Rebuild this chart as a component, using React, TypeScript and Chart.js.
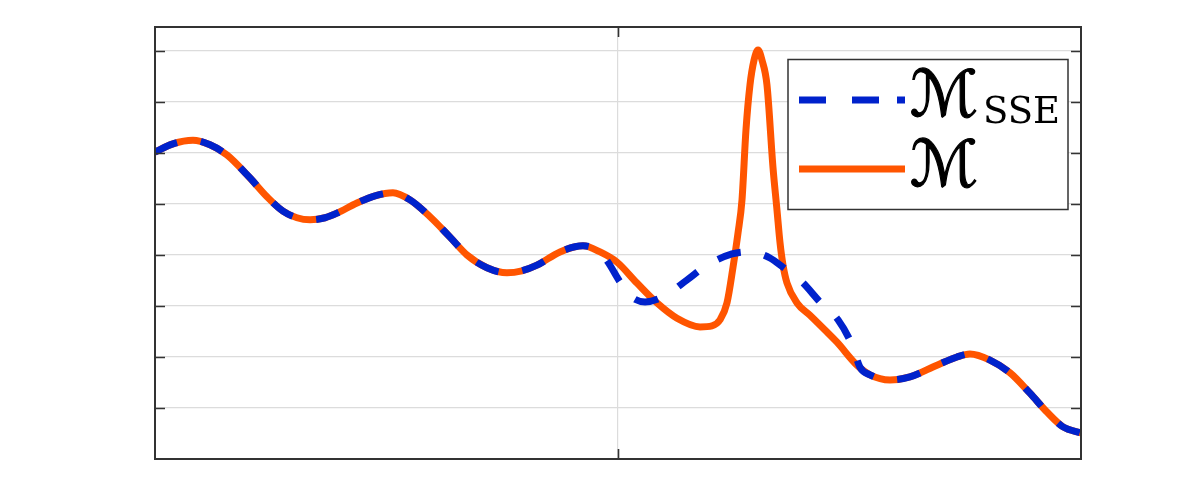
import React, { useEffect, useRef } from "react";
import { Chart, registerables } from "chart.js";

Chart.register(...registerables);

// Series M (solid orange)
const mX = [0, 1.94, 4.10, 5.94, 7.78, 10.26, 12.10, 13.82, 15.33, 16.74, 18.36, 19.65, 21.81, 23.76, 25.70, 27.54, 29.70, 31.86, 33.69, 35.85, 38.01, 39.63, 41.25, 43.74, 46.22, 48.06, 49.89, 52.05, 54.21, 56.37, 58.86, 60.15, 61.02, 61.77, 62.42, 62.96, 63.39, 63.82, 64.25, 64.69, 65.12, 65.55, 66.09, 66.74, 67.17, 67.49, 67.82, 68.25, 69.33, 70.73, 72.57, 73.65, 75.81, 77.21, 79.37, 81.53, 84.45, 86.61, 88.01, 90.17, 92.33, 94.49, 96.33, 98.06, 100];
const mY = [6.02, 6.18, 6.25, 6.16, 5.96, 5.51, 5.14, 4.86, 4.73, 4.69, 4.73, 4.82, 5.02, 5.16, 5.22, 5.08, 4.75, 4.35, 4.00, 3.75, 3.65, 3.69, 3.80, 4.06, 4.18, 4.06, 3.86, 3.45, 3.06, 2.76, 2.59, 2.61, 2.73, 3.06, 3.76, 4.43, 5.08, 6.45, 7.33, 7.82, 8.02, 7.82, 7.33, 5.71, 4.88, 4.25, 3.80, 3.45, 3.06, 2.82, 2.49, 2.29, 1.84, 1.65, 1.55, 1.61, 1.84, 2.00, 2.06, 1.94, 1.69, 1.29, 0.92, 0.63, 0.51];

// Series M_SSE (dashed blue)
const sseX = [0, 1.94, 4.10, 5.94, 7.78, 10.26, 12.10, 13.82, 15.33, 16.74, 18.36, 19.65, 21.81, 23.76, 25.70, 27.54, 29.70, 31.86, 33.69, 35.85, 38.01, 39.63, 41.25, 43.74, 46.22, 48.06, 48.92, 50.22, 51.30, 52.92, 54.86, 57.45, 59.61, 62.31, 63.71, 65.01, 66.41, 67.82, 69.87, 71.81, 73.76, 75.27, 76.13, 77.21, 79.37, 81.53, 84.45, 86.61, 88.01, 90.17, 92.33, 94.49, 96.33, 98.06, 100];
const sseY = [6.02, 6.18, 6.25, 6.16, 5.96, 5.51, 5.14, 4.86, 4.73, 4.69, 4.73, 4.82, 5.02, 5.16, 5.22, 5.08, 4.75, 4.35, 4.00, 3.75, 3.65, 3.69, 3.80, 4.06, 4.18, 4.06, 3.86, 3.47, 3.20, 3.08, 3.18, 3.51, 3.80, 4.02, 4.06, 4.04, 3.94, 3.76, 3.47, 3.08, 2.73, 2.24, 1.80, 1.65, 1.55, 1.61, 1.84, 2.00, 2.06, 1.94, 1.69, 1.29, 0.92, 0.63, 0.51];

const xRange = [0, 100];
const yRange = [0, 8.47];
const xTickStep = 50;
const yTickStep = 1;

const BLUE = "#0022cc";
const ORANGE = "#ff5500";
const AXIS = "#333333";
const GRID = "#dcdcdc";

const framePlugin = {
  id: "frame",
  afterDatasetsDraw(chart: any) {
    const { ctx, chartArea: a, scales } = chart;
    ctx.save();
    ctx.strokeStyle = AXIS;
    ctx.lineWidth = 1.6;
    const tl = 10;
    scales.y.ticks.forEach((t: any) => {
      if (t.value <= yRange[0] || t.value >= yRange[1]) return;
      const py = Math.round(scales.y.getPixelForValue(t.value)) + 0.5;
      ctx.beginPath();
      ctx.moveTo(a.left, py);
      ctx.lineTo(a.left + tl, py);
      ctx.moveTo(a.right, py);
      ctx.lineTo(a.right - tl, py);
      ctx.stroke();
    });
    scales.x.ticks.forEach((t: any) => {
      if (t.value <= xRange[0] || t.value >= xRange[1]) return;
      const px = Math.round(scales.x.getPixelForValue(t.value)) + 0.5;
      ctx.beginPath();
      ctx.moveTo(px, a.top);
      ctx.lineTo(px, a.top + tl);
      ctx.moveTo(px, a.bottom);
      ctx.lineTo(px, a.bottom - tl);
      ctx.stroke();
    });
    ctx.lineWidth = 2;
    ctx.strokeRect(a.left, a.top, a.right - a.left, a.bottom - a.top);
    ctx.restore();
  },
};

const mathFont = '"DejaVu Serif", "DejaVu Sans", serif';
const romanFont = '"DejaVu Serif", "Liberation Serif", serif';

export default function App() {
  const ref = useRef<HTMLCanvasElement | null>(null);
  useEffect(() => {
    if (!ref.current) return;
    const chart = new Chart(ref.current, {
      type: "line",
      data: {
        datasets: [
          {
            label: "ℳSSE",
            data: sseX.map((x, i) => ({ x, y: sseY[i] })),
            borderColor: BLUE,
            borderWidth: 7,
            borderDash: [24, 24],
            borderCapStyle: "butt",
            pointRadius: 0,
            cubicInterpolationMode: "monotone",
            fill: false,
          },
          {
            label: "ℳ",
            data: mX.map((x, i) => ({ x, y: mY[i] })),
            borderColor: ORANGE,
            borderWidth: 7,
            borderCapStyle: "butt",
            pointRadius: 0,
            cubicInterpolationMode: "monotone",
            fill: false,
          },
        ],
      },
      options: {
        responsive: false,
        animation: false,
        layout: { padding: { left: 155, top: 27, right: 115, bottom: 42 } },
        plugins: { legend: { display: false }, tooltip: { enabled: false } },
        scales: {
          x: {
            type: "linear",
            min: xRange[0],
            max: xRange[1],
            ticks: { display: false, stepSize: xTickStep },
            grid: { color: GRID, lineWidth: 1.2, drawTicks: false },
            border: { display: false },
          },
          y: {
            type: "linear",
            min: yRange[0],
            max: yRange[1],
            ticks: { display: false, stepSize: yTickStep },
            grid: { color: GRID, lineWidth: 1.2, drawTicks: false },
            border: { display: false },
          },
        },
      },
      plugins: [framePlugin],
    });
    return () => chart.destroy();
  }, []);

  return (
    <div style={{ position: "absolute", left: 0, top: 0, width: 1196, height: 501, background: "#fff" }}>
      <canvas ref={ref} width={1196} height={501} style={{ display: "block" }} />
      <svg
        width={1196}
        height={501}
        style={{ position: "absolute", left: 0, top: 0, pointerEvents: "none" }}
      >
        <rect x={788} y={59.5} width={280} height={150} fill="#fff" stroke={AXIS} strokeWidth={1.5} />
        <line x1={799} x2={905} y1={100} y2={100} stroke={BLUE} strokeWidth={7} strokeDasharray="27 26 27 18 8" />
        <line x1={799} x2={905} y1={169} y2={169} stroke={ORANGE} strokeWidth={7} />
        <text x={910} y={116} fontSize={64} fontStyle="italic" fontFamily={mathFont} fill="#000" stroke="#000" strokeWidth={1.2}>
          ℳ
        </text>
        <text x={983} y={123} fontSize={37} fontFamily={romanFont} fill="#000">
          SSE
        </text>
        <text x={910} y={186} fontSize={64} fontStyle="italic" fontFamily={mathFont} fill="#000" stroke="#000" strokeWidth={1.2}>
          ℳ
        </text>
      </svg>
    </div>
  );
}
